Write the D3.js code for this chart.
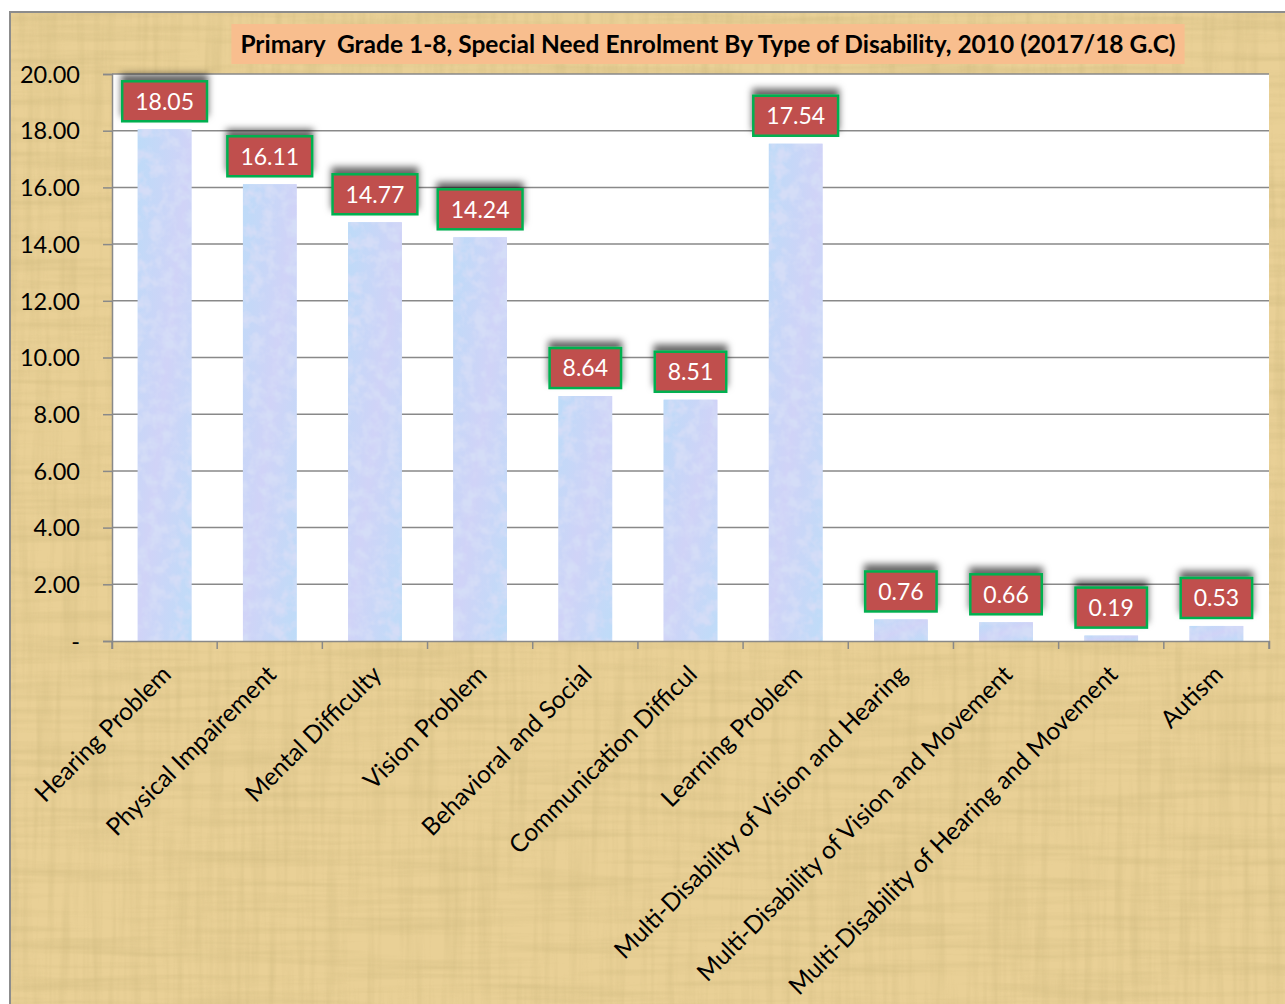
<!DOCTYPE html>
<html>
<head>
<meta charset="utf-8">
<script src="https://cdn.jsdelivr.net/npm/d3@7"></script>
<style>
  html, body { margin: 0; padding: 0; background: #fff; }
  svg { display: block; }
</style>
</head>
<body>
<svg id="chart"></svg>
<script>
// data
var categories = ["Hearing Problem", "Physical Impairement", "Mental Difficulty", "Vision Problem",
                  "Behavioral and Social", "Communication Difficul", "Learning Problem",
                  "Multi-Disability of Vision and Hearing", "Multi-Disability of Vision and Movement",
                  "Multi-Disability of Hearing and Movement", "Autism"];
var values = [18.05, 16.11, 14.77, 14.24, 8.64, 8.51, 17.54, 0.76, 0.66, 0.19, 0.53];
var yTicks = [0, 2, 4, 6, 8, 10, 12, 14, 16, 18, 20];
var title = "Primary  Grade 1-8, Special Need Enrolment By Type of Disability, 2010 (2017/18 G.C)";

var WIDTH = 1285, HEIGHT = 1004,
    PLOT = { left: 112, right: 1269, top: 74, bottom: 641 },
    FONT = "Lato, 'Open Sans', sans-serif";

var svg = d3.select("#chart").attr("width", WIDTH).attr("height", HEIGHT);
var defs = svg.append("defs");

// parchment texture, one layer of horizontal streaks and one of vertical ones
function paperFilter(id, freq, seed) {
  var f = defs.append("filter").attr("id", id).attr("x", 0).attr("y", 0).attr("width", 1).attr("height", 1);
  f.append("feTurbulence").attr("type", "fractalNoise").attr("baseFrequency", freq)
   .attr("numOctaves", 3).attr("seed", seed).attr("result", "noise");
  f.append("feColorMatrix").attr("in", "noise").attr("type", "matrix")
   .attr("values", "0 0 0 0 0.60  0 0 0 0 0.47  0 0 0 0 0.20  2.4 0 0 0 -1.0");
}
paperFilter("paperH", "0.006 0.12", 7);
paperFilter("paperV", "0.12 0.006", 11);

// bar texture
var grad = defs.append("linearGradient").attr("id", "barGrad")
     .attr("x1", "0%").attr("y1", "0%").attr("x2", "100%").attr("y2", "100%");
grad.append("stop").attr("offset", "0%").attr("stop-color", "#bddbf8");
grad.append("stop").attr("offset", "50%").attr("stop-color", "#d0d3f7");
grad.append("stop").attr("offset", "100%").attr("stop-color", "#bedcf8");
var barTex = defs.append("filter").attr("id", "barTex").attr("x", 0).attr("y", 0).attr("width", 1).attr("height", 1);
barTex.append("feTurbulence").attr("type", "fractalNoise").attr("baseFrequency", "0.08")
      .attr("numOctaves", 3).attr("seed", 3).attr("result", "n");
barTex.append("feColorMatrix").attr("in", "n").attr("type", "matrix")
      .attr("values", "0 0 0 0 0.66  0 0 0 0 0.72  0 0 0 0 0.93  3 0 0 0 -1.25").attr("result", "tint");
barTex.append("feComposite").attr("in", "tint").attr("in2", "SourceGraphic").attr("operator", "atop").attr("result", "t2");
barTex.append("feMerge").call(function (m) {
  m.append("feMergeNode").attr("in", "SourceGraphic");
  m.append("feMergeNode").attr("in", "t2");
});

// label shadow (falls above the box)
var shadow = defs.append("filter").attr("id", "shadow").attr("x", "-30%").attr("y", "-80%").attr("width", "160%").attr("height", "220%");
shadow.append("feDropShadow").attr("dx", 0).attr("dy", -6).attr("stdDeviation", 3.5)
      .attr("flood-color", "#000").attr("flood-opacity", 0.6);

// background
svg.append("rect").attr("x", 10).attr("y", 12).attr("width", WIDTH - 10).attr("height", HEIGHT - 12)
   .attr("fill", "#e9d096");
svg.append("rect").attr("x", 10).attr("y", 12).attr("width", WIDTH - 10).attr("height", HEIGHT - 12)
   .attr("filter", "url(#paperH)").attr("opacity", 0.35);
svg.append("rect").attr("x", 10).attr("y", 12).attr("width", WIDTH - 10).attr("height", HEIGHT - 12)
   .attr("filter", "url(#paperV)").attr("opacity", 0.3);
svg.append("path").attr("d", "M10," + HEIGHT + "V12H" + WIDTH)
   .attr("fill", "none").attr("stroke", "#8c8c8c").attr("stroke-width", 2);

// plot area
svg.append("rect").attr("x", PLOT.left).attr("y", PLOT.top)
   .attr("width", PLOT.right - PLOT.left).attr("height", PLOT.bottom - PLOT.top).attr("fill", "#fff");

var x = d3.scaleBand().domain(categories).range([PLOT.left, PLOT.right]).paddingInner(0.49).paddingOuter(0.245);
var xb = d3.scaleBand().domain(categories).range([PLOT.left, PLOT.right]);
var y = d3.scaleLinear().domain([0, 20]).range([PLOT.bottom, PLOT.top]);

// gridlines
svg.append("g").selectAll("line").data(yTicks.filter(function (d) { return d > 0; })).enter().append("line")
   .attr("x1", PLOT.left).attr("x2", PLOT.right)
   .attr("y1", function (d) { return y(d); }).attr("y2", function (d) { return y(d); })
   .attr("stroke", "#898989").attr("stroke-width", 1.5);

// bars
svg.append("g").selectAll("rect").data(values).enter().append("rect")
   .attr("x", function (d, i) { return x(categories[i]); })
   .attr("width", x.bandwidth())
   .attr("y", function (d) { return y(d); })
   .attr("height", function (d) { return y(0) - y(d); })
   .attr("fill", "url(#barGrad)")
   .attr("filter", "url(#barTex)");

// y axis
var yAxis = d3.axisLeft(y).tickValues(yTicks).tickSize(9).tickPadding(23)
   .tickFormat(function (d) { return d === 0 ? "-" : d3.format(".2f")(d); });
var gy = svg.append("g").attr("transform", "translate(" + PLOT.left + ",0)").call(yAxis);
gy.select(".domain").attr("stroke", "#898989").attr("stroke-width", 1.5);
gy.selectAll(".tick line").attr("stroke", "#898989").attr("stroke-width", 1.5);
gy.selectAll(".tick text").attr("font-family", FONT).attr("font-size", 23.5)
  .attr("fill", "#000").attr("dy", "0.35em");

// x axis
var xAxis = d3.axisBottom(xb).tickSize(8).tickFormat("");
var gx = svg.append("g").attr("transform", "translate(0," + PLOT.bottom + ")").call(xAxis);
gx.select(".domain").attr("stroke", "#898989").attr("stroke-width", 1.5);
gx.selectAll(".tick").attr("transform", function (d) { return "translate(" + xb(d) + ",0)"; });
gx.selectAll(".tick line").attr("stroke", "#898989").attr("stroke-width", 1.5);
gx.append("line").attr("x1", PLOT.right).attr("x2", PLOT.right).attr("y1", 0).attr("y2", 8)
  .attr("stroke", "#898989").attr("stroke-width", 1.5);

svg.append("g").selectAll("text").data(categories).enter().append("text")
   .attr("transform", function (d) {
     return "translate(" + (xb(d) + xb.bandwidth() / 2 + 8) + "," + (PLOT.bottom + 35) + ") rotate(-45)";
   })
   .attr("text-anchor", "end")
   .attr("font-family", FONT).attr("font-size", 24.5).attr("fill", "#000")
   .text(function (d) { return d; });

// data labels
var lab = svg.append("g").selectAll("g").data(values).enter().append("g")
   .attr("transform", function (d, i) {
     return "translate(" + (x(categories[i]) + x.bandwidth() / 2) + "," + (y(d) - 28) + ")";
   });
var boxes = lab.append("rect").attr("filter", "url(#shadow)")
   .attr("fill", "#c0504d").attr("stroke", "#00b050").attr("stroke-width", 2.5);
lab.append("text").attr("text-anchor", "middle").attr("dy", "0.36em")
   .attr("font-family", FONT).attr("font-size", 23).attr("fill", "#fff")
   .text(function (d) { return d3.format(".2f")(d); })
   .each(function (d, i) {
     var w = this.getComputedTextLength() + 26;
     d3.select(boxes.nodes()[i]).attr("x", -w / 2).attr("y", -20).attr("width", w).attr("height", 40);
   });

// title
var tg = svg.append("g");
var tBox = tg.append("rect").attr("fill", "#f8be8e");
var tText = tg.append("text").attr("x", 708).attr("y", 44).attr("text-anchor", "middle").attr("dy", "0.35em")
   .attr("font-family", FONT).attr("font-weight", "bold").attr("font-size", 24.5)
   .attr("fill", "#000").style("white-space", "pre")
   .text(title);
var tw = tText.node().getComputedTextLength();
tBox.attr("x", 708 - tw / 2 - 9).attr("y", 24).attr("width", tw + 18).attr("height", 40);
</script>
</body>
</html>
